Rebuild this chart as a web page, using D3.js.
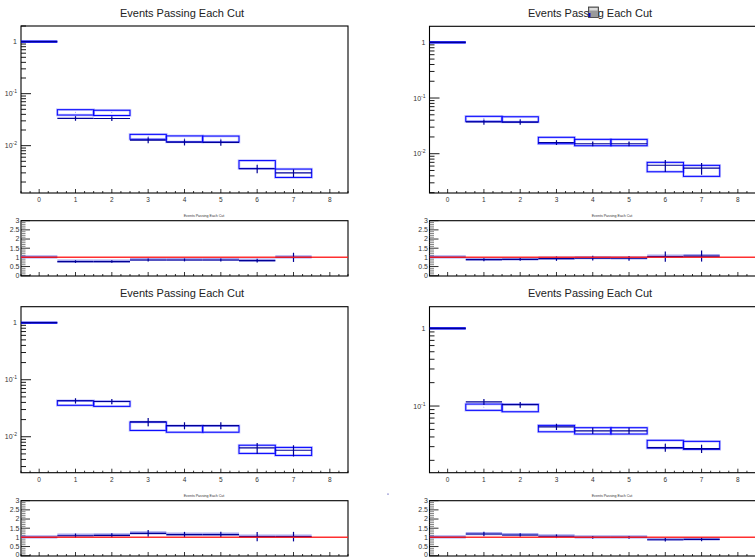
<!DOCTYPE html>
<html>
<head>
<meta charset="utf-8">
<script src="https://cdn.jsdelivr.net/npm/d3@7"></script>
<style>
  body { margin: 0; background: #fff; }
  svg { display: block; }
</style>
</head>
<body>
<script>
// ---------------- data ----------------
const bins = [0, 1, 2, 3, 4, 5, 6, 7]
const xTickLabels = ['0', '1', '2', '3', '4', '5', '6', '7', '8']
const ratioTickLabels = ['0', '0.5', '1', '1.5', '2', '2.5', '3']
const titleText = 'Events Passing Each Cut'

// top left
const boxTL = [1, 0.0440, 0.0430, 0.0149, 0.0136, 0.0135, 0.0044, 0.0030]
const boxErrTL = [0, 0.0052, 0.0050, 0.0016, 0.0018, 0.0018, 0.00077, 0.00055]
const lineTL = [1, 0.0335, 0.0333, 0.0128, 0.0117, 0.0116, 0.0036, 0.0030]
const lineErrTL = [0, 0.0034, 0.0034, 0.0017, 0.0016, 0.0016, 0.00065, 0.0005]
const ratioTL = [1, 0.77, 0.77, 0.86, 0.86, 0.86, 0.82, 1.0]
const ratioErrTL = [0, 0.07, 0.07, 0.08, 0.08, 0.08, 0.1, 0.25]

// top right
const boxTR = [1, 0.0425, 0.0416, 0.0174, 0.0160, 0.0160, 0.00587, 0.00505]
const boxErrTR = [0, 0.0044, 0.0045, 0.0023, 0.0021, 0.0021, 0.00113, 0.00113]
const lineTR = [1, 0.0372, 0.0370, 0.0159, 0.0151, 0.0151, 0.0062, 0.0055]
const lineErrTR = [0, 0.0040, 0.0040, 0.0016, 0.0015, 0.0015, 0.0015, 0.0013]
const ratioTR = [1, 0.875, 0.89, 0.93, 0.96, 0.95, 1.04, 1.07]
const ratioErrTR = [0, 0.08, 0.08, 0.12, 0.13, 0.13, 0.28, 0.3]

// bottom left
const boxBL = [1, 0.0392, 0.0379, 0.0155, 0.0138, 0.0138, 0.0061, 0.0056]
const boxErrBL = [0, 0.0036, 0.0038, 0.0026, 0.0018, 0.0018, 0.0010, 0.0009]
const lineBL = [1, 0.0428, 0.0415, 0.0183, 0.0157, 0.0157, 0.0064, 0.0058]
const lineErrBL = [0, 0.0047, 0.0045, 0.0030, 0.0022, 0.0022, 0.0014, 0.0013]
const ratioBL = [1, 1.09, 1.11, 1.22, 1.15, 1.15, 1.04, 1.04]
const ratioErrBL = [0, 0.12, 0.12, 0.18, 0.15, 0.15, 0.25, 0.26]

// bottom right
const boxBR = [1, 0.097, 0.0948, 0.0515, 0.0481, 0.0481, 0.0325, 0.0314]
const boxErrBR = [0, 0.009, 0.0104, 0.0049, 0.0045, 0.0045, 0.0037, 0.0037]
const lineBR = [1, 0.113, 0.104, 0.054, 0.048, 0.048, 0.0292, 0.0283]
const lineErrBR = [0, 0.010, 0.009, 0.005, 0.0045, 0.0045, 0.0035, 0.0034]
const ratioBR = [1, 1.18, 1.13, 1.06, 1.0, 1.0, 0.87, 0.89]
const ratioErrBR = [0, 0.12, 0.1, 0.1, 0.08, 0.08, 0.1, 0.1]

// ---------------- layout ----------------
const W = 755, H = 557
const svg = d3.create('svg').attr('width', W).attr('height', H)
  .attr('font-family', '"Liberation Sans", Arial, sans-serif')

const panels = [
  { x0: 21, x1: 348, top: 26, bot: 193, rTop: 220.7, rBot: 276, yDom: [0.00123, 2], tx: 182, ty: 17, rtx: 204, rty: 216.5,
    box: boxTL, boxErr: boxErrTL, line: lineTL, lineErr: lineErrTL, ratio: ratioTL, ratioErr: ratioErrTL },
  { x0: 429.5, x1: 756, top: 26.3, bot: 193, rTop: 220.7, rBot: 276, yDom: [0.00197, 1.94], tx: 590, ty: 17, rtx: 612, rty: 216.5,
    box: boxTR, boxErr: boxErrTR, line: lineTR, lineErr: lineErrTR, ratio: ratioTR, ratioErr: ratioErrTR },
  { x0: 21, x1: 348, top: 306.7, bot: 472.7, rTop: 500.7, rBot: 556, yDom: [0.00234, 1.91], tx: 182, ty: 297, rtx: 204, rty: 496.5,
    box: boxBL, boxErr: boxErrBL, line: lineBL, lineErr: lineErrBL, ratio: ratioBL, ratioErr: ratioErrBL },
  { x0: 429.5, x1: 756, top: 306.7, bot: 472.7, rTop: 500.7, rBot: 556, yDom: [0.01386, 1.9], tx: 590, ty: 297, rtx: 612, rty: 496.5,
    box: boxBR, boxErr: boxErrBR, line: lineBR, lineErr: lineErrBR, ratio: ratioBR, ratioErr: ratioErrBR }
]

const blue = '#0000ff'
const navy = '#000096'

function xTicks(g, x, yb) {
  const minor = d3.range(-0.5, 8.51, 0.25)
  g.selectAll(null).data(minor).join('line')
    .attr('x1', d => x(d)).attr('x2', d => x(d))
    .attr('y1', yb).attr('y2', d => Number.isInteger(d) ? yb - 4 : yb - 2)
    .attr('stroke', '#000').attr('stroke-width', 0.8)
}

panels.forEach(p => {
  const g = svg.append('g')
  const x = d3.scaleLinear().domain([-0.5, 8.5]).range([p.x0, p.x1])
  const y = d3.scaleLog().domain(p.yDom).range([p.bot, p.top])

  // title
  g.append('text').attr('x', p.tx).attr('y', p.ty).attr('text-anchor', 'middle')
    .attr('font-size', 11).attr('fill', '#222').text(titleText)

  // main frame
  g.append('rect').attr('x', p.x0).attr('y', p.top).attr('width', p.x1 - p.x0).attr('height', p.bot - p.top)
    .attr('fill', 'none').attr('stroke', '#000').attr('stroke-width', 1.1)

  // y log ticks
  const lo = Math.floor(Math.log10(p.yDom[0])), hi = Math.ceil(Math.log10(p.yDom[1]))
  const yt = []
  for (let e = lo; e <= hi; e++) for (let m = 1; m <= 9; m++) {
    const v = m * Math.pow(10, e)
    if (v >= p.yDom[0] && v <= p.yDom[1]) yt.push({ v, major: m === 1, e })
  }
  g.selectAll(null).data(yt).join('line')
    .attr('x1', p.x0).attr('x2', d => p.x0 + (d.major ? 10 : 5))
    .attr('y1', d => y(d.v)).attr('y2', d => y(d.v))
    .attr('stroke', '#000').attr('stroke-width', 0.9)
  yt.filter(d => d.major).forEach(d => {
    const t = g.append('text').attr('y', y(d.v) + 2.5).attr('font-size', 7).attr('fill', '#333')
      .attr('text-anchor', 'end')
    if (d.e === 0) {
      t.attr('x', p.x0 - 4).text('1')
    } else {
      t.attr('x', p.x0 - 4)
      t.append('tspan').text('10')
      t.append('tspan').attr('dy', -3).attr('font-size', 5).text('' + d.e)
    }
  })

  // x ticks + labels
  xTicks(g, x, p.bot)
  g.selectAll(null).data(xTickLabels).join('text')
    .attr('x', (d, i) => x(i)).attr('y', p.bot + 9).attr('text-anchor', 'middle')
    .attr('font-size', 6.5).attr('fill', '#333').text(d => d)

  const clip = 'clip' + p.x0 + '_' + p.top
  g.append('clipPath').attr('id', clip).append('rect')
    .attr('x', p.x0).attr('y', p.top).attr('width', p.x1 - p.x0).attr('height', p.bot - p.top)
  const m = g.append('g').attr('clip-path', `url(#${clip})`)

  bins.forEach(i => {
    const xl = x(i - 0.5), xr = x(i + 0.5)
    if (p.boxErr[i] > 0) {
      const yt0 = y(p.box[i] + p.boxErr[i]), yb0 = y(p.box[i] - p.boxErr[i])
      m.append('rect').attr('x', xl).attr('y', yt0).attr('width', xr - xl).attr('height', yb0 - yt0)
        .attr('fill', 'none').attr('stroke', 'rgba(90,90,255,0.35)').attr('stroke-width', 2.6)
      m.append('rect').attr('x', xl).attr('y', yt0).attr('width', xr - xl).attr('height', yb0 - yt0)
        .attr('fill', 'none').attr('stroke', blue).attr('stroke-width', 1)
      m.append('circle').attr('cx', x(i)).attr('cy', y(p.box[i])).attr('r', 0.4).attr('fill', blue)
    } else {
      m.append('line').attr('x1', xl).attr('x2', xr).attr('y1', y(p.box[i])).attr('y2', y(p.box[i]))
        .attr('stroke', blue).attr('stroke-width', 2.6).attr('opacity', 0.8)
    }
    // navy histogram with errors
    m.append('line').attr('x1', xl).attr('x2', xr).attr('y1', y(p.line[i])).attr('y2', y(p.line[i]))
      .attr('stroke', navy).attr('stroke-width', 1.2)
    if (p.lineErr[i] > 0) {
      m.append('line').attr('x1', x(i)).attr('x2', x(i))
        .attr('y1', y(p.line[i] - p.lineErr[i])).attr('y2', y(p.line[i] + p.lineErr[i]))
        .attr('stroke', navy).attr('stroke-width', 1.2)
    }
  })

  // ---------- ratio pad ----------
  const ry = d3.scaleLinear().domain([0, 3]).range([p.rBot - 0.3, p.rTop])
  g.append('text').attr('x', p.rtx).attr('y', p.rty).attr('text-anchor', 'middle')
    .attr('font-size', 3.6).attr('fill', '#333').text(titleText)
  g.append('rect').attr('x', p.x0).attr('y', p.rTop).attr('width', p.x1 - p.x0).attr('height', p.rBot - p.rTop)
    .attr('fill', 'none').attr('stroke', '#000').attr('stroke-width', 1.1)

  const rMinor = d3.range(0, 3.001, 0.1).map(v => Math.round(v * 10) / 10)
  g.selectAll(null).data(rMinor).join('line')
    .attr('x1', p.x0).attr('x2', d => p.x0 + (Math.round(d * 10) % 5 === 0 ? 9 : 4.5))
    .attr('y1', d => ry(d)).attr('y2', d => ry(d))
    .attr('stroke', d => Math.round(d * 10) % 5 === 0 ? '#000' : '#666').attr('stroke-width', 0.8)
  g.selectAll(null).data(ratioTickLabels).join('text')
    .attr('x', p.x0 - 1.5).attr('y', d => Math.min(ry(+d) + 2.4, H - 0.5)).attr('text-anchor', 'end')
    .attr('font-size', 7).attr('fill', '#333').text(d => d)
  xTicks(g, x, p.rBot)

  const rclip = 'rclip' + p.x0 + '_' + p.rTop
  g.append('clipPath').attr('id', rclip).append('rect')
    .attr('x', p.x0).attr('y', p.rTop).attr('width', p.x1 - p.x0).attr('height', p.rBot - p.rTop)
  const r = g.append('g').attr('clip-path', `url(#${rclip})`)

  bins.forEach(i => {
    const xl = x(i - 0.5), xr = x(i + 0.5)
    r.append('line').attr('x1', xl).attr('x2', xr).attr('y1', ry(p.ratio[i]) - 0.5).attr('y2', ry(p.ratio[i]) - 0.5)
      .attr('stroke', 'rgba(110,110,225,0.6)').attr('stroke-width', 3.2)
    r.append('line').attr('x1', xl).attr('x2', xr).attr('y1', ry(p.ratio[i])).attr('y2', ry(p.ratio[i]))
      .attr('stroke', navy).attr('stroke-width', 1.1)
    if (p.ratioErr[i] > 0) {
      r.append('line').attr('x1', x(i)).attr('x2', x(i))
        .attr('y1', ry(p.ratio[i] - p.ratioErr[i])).attr('y2', ry(p.ratio[i] + p.ratioErr[i]))
        .attr('stroke', navy).attr('stroke-width', 1.2)
    }
  })
  r.append('line').attr('x1', p.x0).attr('x2', p.x1).attr('y1', ry(1)).attr('y2', ry(1))
    .attr('stroke', '#ff1a1a').attr('stroke-width', 1.5).attr('opacity', 0.9)
})

// little stray glyph in the top right title and a stray dot
svg.append('rect').attr('x', 588.5).attr('y', 7).attr('width', 10).attr('height', 10.5)
  .attr('fill', '#9a9a9a').attr('stroke', '#333').attr('stroke-width', 0.8)
svg.append('rect').attr('x', 589.5).attr('y', 8).attr('width', 8).attr('height', 2.5).attr('fill', '#ddd')
svg.append('rect').attr('x', 588.5).attr('y', 13).attr('width', 2).attr('height', 4).attr('fill', '#1010c0')
svg.append('circle').attr('cx', 388).attr('cy', 494).attr('r', 0.6).attr('fill', navy)

document.body.appendChild(svg.node())
</script>
</body>
</html>
